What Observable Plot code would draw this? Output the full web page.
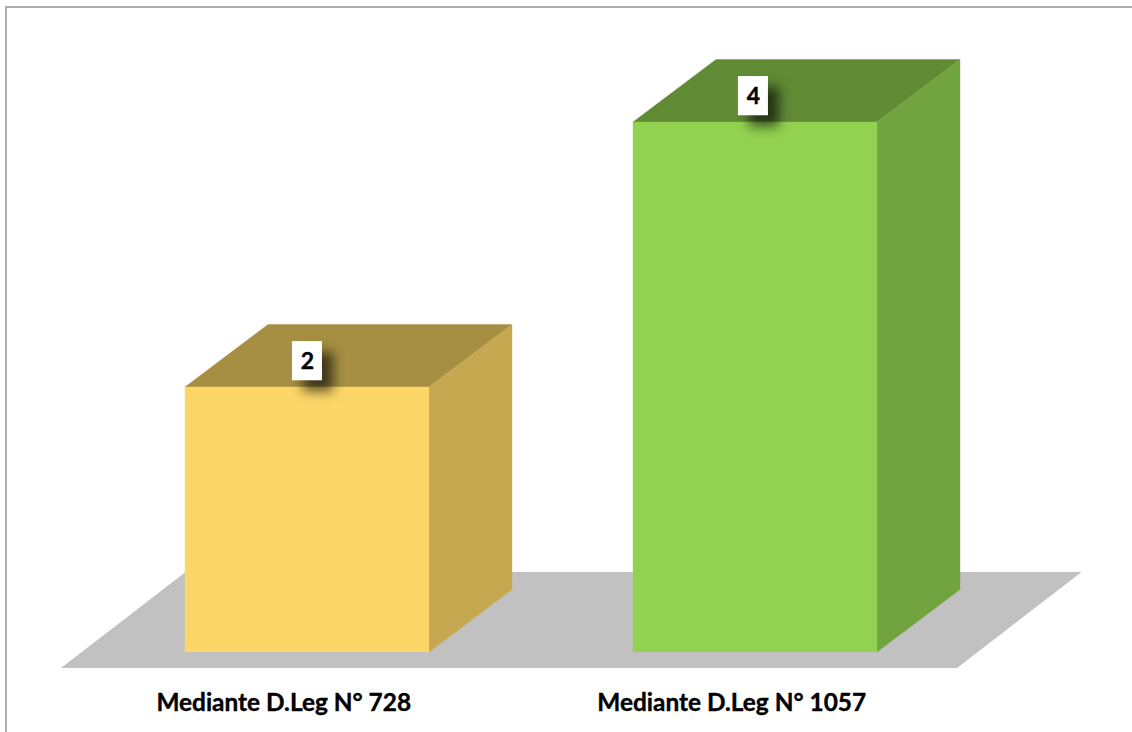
<!DOCTYPE html>
<html lang="es">
<head>
<meta charset="utf-8">
<title>Mediante D.Leg</title>
<script src="https://cdn.jsdelivr.net/npm/d3@7"></script>
<script src="https://cdn.jsdelivr.net/npm/@observablehq/plot@0.6"></script>
<style>
  html, body { margin: 0; padding: 0; background: #fff; overflow: hidden; }
  #chart { position: relative; width: 1132px; height: 732px; }
  #chart svg { position: absolute; left: 0; top: 0; display: block; }
  /* Outer border of the chart area: only the top and left edges fall on the page */
  #border { position: absolute; left: 5px; top: 6px; right: -4px; bottom: -4px;
            border: 2px solid #adadad; box-sizing: border-box; }
</style>
</head>
<body>
<div id="chart"><div id="border"></div></div>
<script>
// Chart values
const categories = ["Mediante D.Leg N° 728", "Mediante D.Leg N° 1057"];
const values = [2, 4];
const frontColors = ["#fcd667", "#92d250"];
const sideColors = ["#c5a84f", "#71a33f"];
const topColors = ["#a68f42", "#618a34"];
const tagShift = [0.001, -0.0035];

// Box proportions, in the units of the x (category index) and y (value) scales
const barWidth = 0.54464;
const depthX = 0.18527;
const depthY = 0.4717;
const barLeft = (i) => i - barWidth / 2;
const barRight = (i) => i + barWidth / 2;

const bars = categories.map((name, i) => ({ i, name, value: values[i] }));

// Each box is three closed polygons: top, side and, painted last, front
const faces = bars.flatMap(({ i, value }) => [
  [[barLeft(i), value], [barLeft(i) + depthX, value + depthY],
   [barRight(i) + depthX, value + depthY], [barRight(i), value]].map(([x, y]) =>
    ({ x, y, face: `top${i}`, color: topColors[i] })),
  [[barRight(i), value], [barRight(i) + depthX, value + depthY],
   [barRight(i) + depthX, depthY], [barRight(i), 0]].map(([x, y]) =>
    ({ x, y, face: `side${i}`, color: sideColors[i] })),
  [[barLeft(i), 0], [barLeft(i), value], [barRight(i), value], [barRight(i), 0]].map(([x, y]) =>
    ({ x, y, face: `front${i}`, color: frontColors[i] }))
]).flat();

// Grey floor the boxes stand on
const floorFront = -0.121, floorBack = 0.604;
const floorLeft = -0.549, floorRight = 1.451, floorSkew = 0.278;
const floor = [
  { x: floorLeft, y: floorFront },
  { x: floorRight, y: floorFront },
  { x: floorRight + floorSkew, y: floorBack },
  { x: floorLeft + floorSkew, y: floorBack }
];

const fontFamily = "Lato, 'Open Sans', sans-serif";
const labelLift = 0.195;
const labelHalfWidth = 0.0335;
const labelHalfHeight = 0.148;

const plot = Plot.plot({
  width: 1132,
  height: 732,
  margin: 0,
  x: { domain: [-0.684152, 1.842634], range: [0, 1132], axis: null },
  y: { domain: [-0.607547, 4.916981], range: [732, 0], axis: null },
  style: { background: "transparent", fontFamily },
  marks: [
    Plot.line(floor, { x: "x", y: "y", fill: "#c1c1c1", stroke: "none" }),
    // A hairline in the face's own colour closes the seams between adjoining faces
    Plot.line(faces, { x: "x", y: "y", z: "face", fill: "color", stroke: "color", strokeWidth: 0.4 }),
    // Value tags with their soft shadow
    Plot.rect(bars, {
      x1: (d) => d.i + tagShift[d.i] - labelHalfWidth,
      x2: (d) => d.i + tagShift[d.i] + labelHalfWidth,
      y1: (d) => d.value + labelLift - labelHalfHeight,
      y2: (d) => d.value + labelLift + labelHalfHeight,
      fill: "white",
      imageFilter: "drop-shadow(11px 11px 6px rgba(0,0,0,0.62))"
    }),
    Plot.text(bars, {
      x: (d) => d.i + tagShift[d.i],
      y: (d) => d.value + labelLift,
      text: "value",
      fontSize: 23,
      fontWeight: 700,
      stroke: "black",
      strokeWidth: 0.4,
      fill: "black"
    }),
    // Category names under the floor
    Plot.text(bars, {
      x: (d) => d.i - 0.052,
      y: -0.39,
      text: "name",
      fontSize: 24.4,
      fontWeight: 700,
      stroke: "black",
      strokeWidth: 0.4,
      fill: "black"
    })
  ]
});

document.getElementById("chart").appendChild(plot);
</script>
</body>
</html>
